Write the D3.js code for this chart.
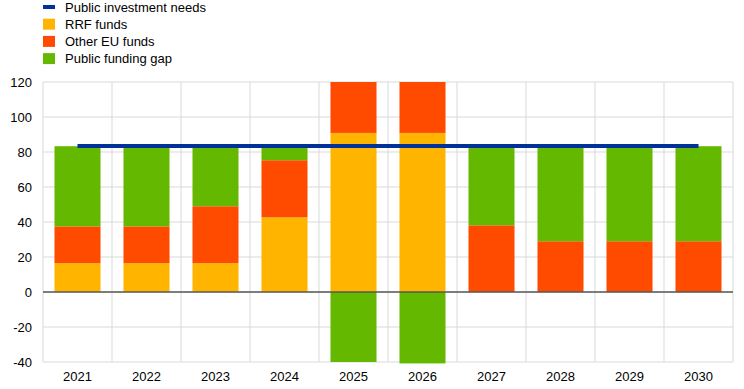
<!DOCTYPE html>
<html>
<head>
<meta charset="utf-8">
<script src="https://cdn.jsdelivr.net/npm/d3@7"></script>
<style>
    body { margin: 0; background: #fff; }
    svg { display: block; font-family: Arial, "Liberation Sans", sans-serif; }
</style>
</head>
<body>
<div id="chart"></div>
<script>
//Chart Data
let years = ["2021", "2022", "2023", "2024", "2025", "2026", "2027", "2028", "2029", "2030"];
let rrfFunds = [16.5, 16.5, 16.5, 42.7, 90.9, 90.9, 0, 0, 0, 0];
let otherEuFunds = [21, 21, 32.5, 32.6, 32.4, 33.2, 38.1, 29, 29, 29];
let fundingGap = [45.8, 45.8, 34.3, 8, -40, -40.8, 45.2, 54.3, 54.3, 54.3];
let investmentNeeds = [83.4, 83.4, 83.4, 83.4, 83.4, 83.4, 83.4, 83.4, 83.4, 83.4];
let yTicks = [-40, -20, 0, 20, 40, 60, 80, 100, 120];
let seriesNames = ["Public investment needs", "RRF funds", "Other EU funds", "Public funding gap"];

renderChart();

function renderChart() {
    //Setting The Dimensions Of The Canvas
    let fullWidth = 744, fullHeight = 389;
    let margin = {top: 82, right: 11, bottom: 27, left: 43},
        width = fullWidth - margin.left - margin.right,
        height = fullHeight - margin.top - margin.bottom;

    let colors = {needs: "#003299", rrf: "#ffb400", other: "#ff4b00", gap: "#65b800"};

    //Setting X & Y Scales
    let x = d3.scaleBand().domain(years).range([0, width]).paddingInner(0.333).paddingOuter(0.1665);
    let xGrid = d3.scaleBand().domain(years).range([0, width]);
    let y = d3.scaleLinear().domain([-40, 120]).range([height, 0]);

    let svg = d3.select("#chart").append("svg")
        .attr("width", fullWidth).attr("height", fullHeight);

    //Legend
    let legend = svg.append("g").attr("transform", "translate(43,0)");
    let legendColors = [colors.needs, colors.rrf, colors.other, colors.gap];
    seriesNames.forEach((name, i) => {
        let cy = 7 + i * 17.2;
        if (i === 0) {
            legend.append("rect").attr("x", 0).attr("y", cy - 2).attr("width", 12).attr("height", 4)
                .attr("fill", legendColors[i]);
        } else {
            legend.append("rect").attr("x", 0).attr("y", cy - 5.5).attr("width", 12).attr("height", 11)
                .attr("fill", legendColors[i]);
        }
        legend.append("text").attr("x", 22).attr("y", cy).attr("dy", "0.35em")
            .attr("font-size", "13px").attr("fill", "#000").text(name);
    });

    let g = svg.append("g").attr("transform", "translate(" + margin.left + "," + margin.top + ")");

    //Gridlines
    g.append("g").selectAll("line").data(yTicks).enter().append("line")
        .attr("x1", 0).attr("x2", width)
        .attr("y1", d => y(d)).attr("y2", d => y(d))
        .attr("stroke", "#d9d9d9").attr("stroke-width", 1);

    let boundaries = years.map(d => xGrid(d)).concat([width]);
    g.append("g").selectAll("line").data(boundaries).enter().append("line")
        .attr("x1", d => d).attr("x2", d => d)
        .attr("y1", 0).attr("y2", height)
        .attr("stroke", "#d9d9d9").attr("stroke-width", 1);

    //Stacked Bars
    let rows = years.map((yr, i) => ({year: yr, rrf: rrfFunds[i], other: otherEuFunds[i], gap: fundingGap[i]}));
    let stack = d3.stack().keys(["rrf", "other", "gap"]).offset(d3.stackOffsetDiverging);
    let layers = stack(rows);

    svg.append("defs").append("clipPath").attr("id", "plotClip")
        .append("rect").attr("x", 0).attr("y", 0).attr("width", width).attr("height", height + 5);

    let bars = g.append("g").attr("clip-path", "url(#plotClip)");
    bars.selectAll("g").data(layers).enter().append("g")
        .attr("fill", d => colors[d.key])
        .selectAll("rect").data(d => d).enter().append("rect")
        .attr("x", d => x(d.data.year))
        .attr("width", x.bandwidth())
        .attr("y", d => y(Math.max(d[0], d[1])))
        .attr("height", d => Math.abs(y(d[0]) - y(d[1])));

    //Zero Line
    g.append("line").attr("x1", 0).attr("x2", width)
        .attr("y1", y(0)).attr("y2", y(0))
        .attr("stroke", "#595959").attr("stroke-width", 1.3);

    //Investment Needs Line
    let line = d3.line()
        .x((d, i) => x(years[i]) + x.bandwidth() / 2)
        .y(d => y(d));
    g.append("path").datum(investmentNeeds)
        .attr("d", line)
        .attr("fill", "none")
        .attr("stroke", colors.needs)
        .attr("stroke-width", 4);

    //Y Axis Labels
    g.append("g").selectAll("text").data(yTicks).enter().append("text")
        .attr("x", -11).attr("y", d => y(d)).attr("dy", "0.35em")
        .attr("text-anchor", "end").attr("font-size", "13px").attr("fill", "#000")
        .text(d => d);

    //X Axis Labels
    g.append("g").selectAll("text").data(years).enter().append("text")
        .attr("x", d => xGrid(d) + xGrid.bandwidth() / 2)
        .attr("y", height + 19)
        .attr("text-anchor", "middle").attr("font-size", "13px").attr("fill", "#000")
        .text(d => d);
}
</script>
</body>
</html>
